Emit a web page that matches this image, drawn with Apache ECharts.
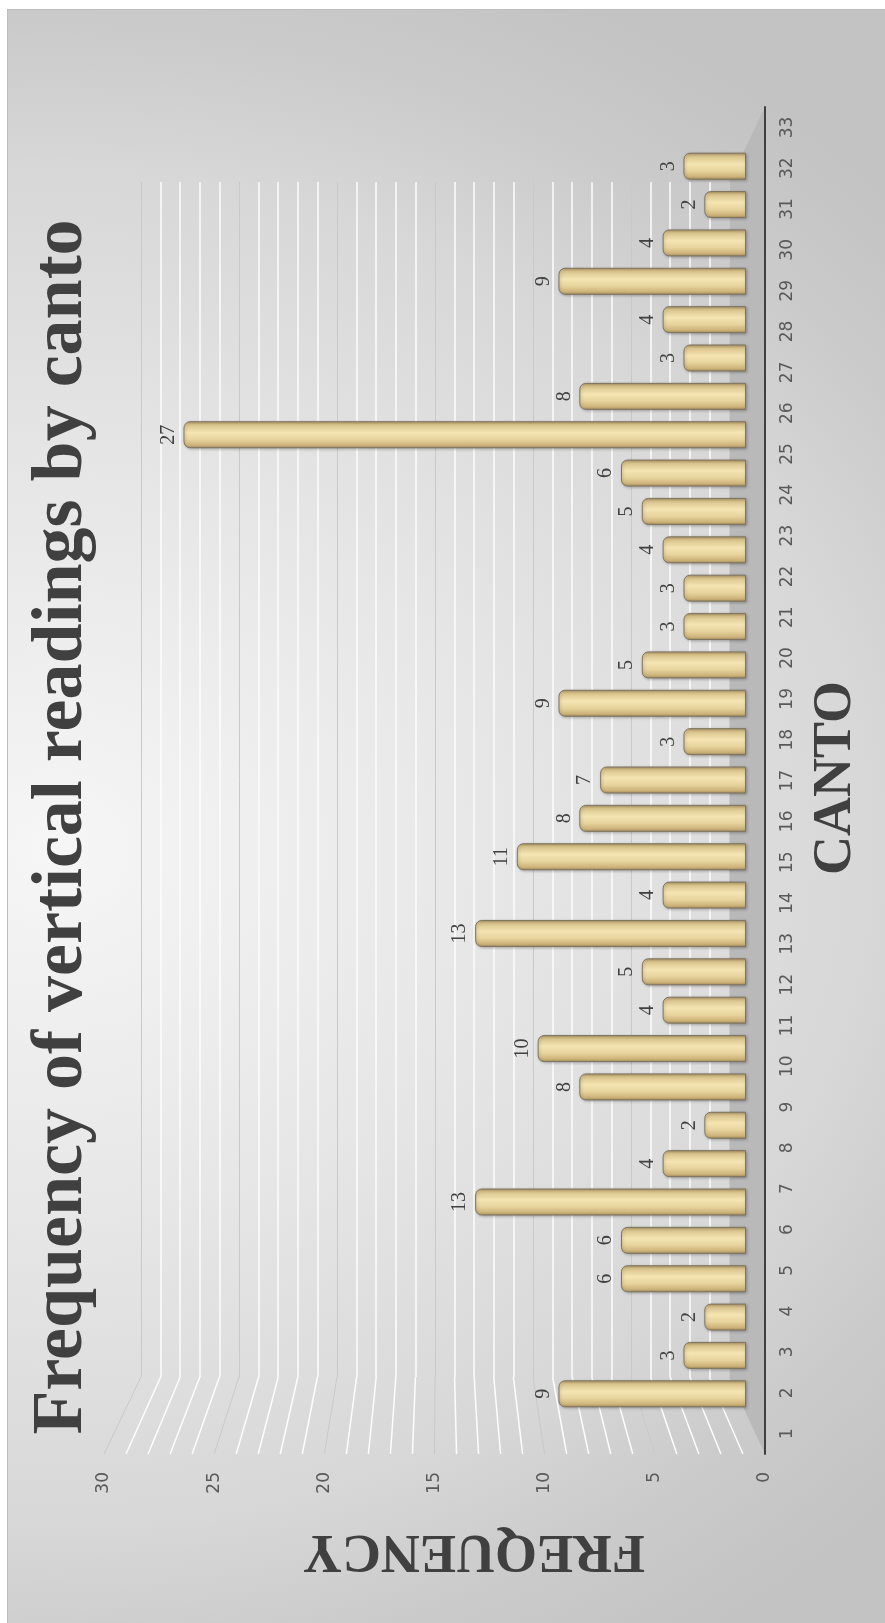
<!DOCTYPE html>
<html>
<head>
<meta charset="utf-8">
<title>Frequency of vertical readings by canto</title>
<script src="https://cdn.jsdelivr.net/npm/echarts@6.0.0/dist/echarts.min.js"></script>
<style>
  html, body { margin: 0; padding: 0; background: #ffffff; }
  #panel {
    position: absolute; left: 7px; top: 9px; width: 877px; height: 1613px;
    border-left: 1px solid #bdbdbd; border-top: 1px solid #bdbdbd;
    background: radial-gradient(ellipse 1150px 950px at 5% 52%, #f6f6f6 0%, #e6e6e6 40%, #d7d7d7 72%, #cbcbcb 86%, #c3c3c3 100%);
  }
  #chart { position: absolute; left: 0; top: 0; width: 885px; height: 1623px; }
</style>
</head>
<body>
<div id="panel"></div>
<div id="chart"></div>
<script>
// datos del grafico
const cantos = ['1', '2', '3', '4', '5', '6', '7', '8', '9', '10', '11', '12', '13', '14', '15', '16', '17',
  '18', '19', '20', '21', '22', '23', '24', '25', '26', '27', '28', '29', '30', '31', '32', '33'];
const readings = [9, 3, 2, 6, 6, 13, 4, 2, 8, 10, 4, 5, 13, 4, 11, 8, 7, 3, 9, 5, 3, 3, 4, 5, 6, 27, 8, 3, 4, 9, 4, 2, 3];
const freqMax = 30;
const freqStep = 5;

const titleText = 'Frequency of vertical readings by canto';
const cantoName = 'CANTO';
const freqName = 'FREQUENCY';

const serif = '"Liberation Serif", "Times New Roman", serif';
const sans = '"DejaVu Sans", sans-serif';

// the chart is an Excel 3D column chart turned on its side
const barsGrid = { left: 121, top: 147, width: 625, height: 1266 };
const frontGrid = { left: 104, top: 107, width: 661, height: 1347 };
const wallGrid = { left: 141, top: 182, width: 588, height: 1195 };

const chart = echarts.init(document.getElementById('chart'));

const option = {
  animation: false,
  grid: [
    Object.assign({ outerBoundsMode: 'none' }, barsGrid),
    Object.assign({ outerBoundsMode: 'none' }, frontGrid),
    Object.assign({ outerBoundsMode: 'none' }, wallGrid)
  ],
  xAxis: [
    { gridIndex: 0, type: 'value', min: 0, max: freqMax, inverse: true, show: false },
    {
      gridIndex: 1, type: 'value', min: 0, max: freqMax, interval: freqStep, inverse: true, position: 'bottom',
      axisLine: { show: false }, axisTick: { show: false }, splitLine: { show: false },
      axisLabel: { rotate: 90, margin: 18, color: '#595959', fontSize: 17, fontFamily: sans }
    },
    {
      gridIndex: 2, type: 'value', min: 0, max: freqMax, interval: freqStep, inverse: true,
      axisLine: { show: false }, axisTick: { show: false }, axisLabel: { show: false },
      splitLine: { show: true, lineStyle: { color: '#c9c9c9', width: 1 } },
      minorTick: { show: false, splitNumber: 5 },
      minorSplitLine: { show: true, lineStyle: { color: '#fdfdfd', width: 1.5 } }
    }
  ],
  yAxis: [
    { gridIndex: 0, type: 'category', data: cantos, show: false },
    {
      gridIndex: 1, type: 'category', data: cantos, position: 'right',
      axisLine: { show: true, lineStyle: { color: '#404040', width: 2 } },
      axisTick: { show: false },
      axisLabel: { interval: 0, rotate: 90, margin: 14, color: '#595959', fontSize: 17, fontFamily: sans }
    },
    { gridIndex: 2, type: 'value', min: 0, max: 1, show: false }
  ],
  series: [
    {
      name: 'Readings',
      type: 'bar',
      xAxisIndex: 0,
      yAxisIndex: 0,
      data: readings,
      barWidth: 27,
      itemStyle: {
        color: new echarts.graphic.LinearGradient(0, 0, 0, 1, [
          { offset: 0, color: '#ad9460' },
          { offset: 0.12, color: '#d8c28b' },
          { offset: 0.42, color: '#f4e5b2' },
          { offset: 0.68, color: '#e7d39c' },
          { offset: 0.9, color: '#cbb178' },
          { offset: 1, color: '#a08856' }
        ]),
        borderColor: '#7e7462',
        borderWidth: 1,
        borderRadius: [6, 0, 0, 6],
        shadowColor: 'rgba(0,0,0,0.25)',
        shadowBlur: 3,
        shadowOffsetX: 1,
        shadowOffsetY: 1
      },
      label: {
        show: true,
        position: 'left',
        distance: 5,
        rotate: 90,
        align: 'center',
        verticalAlign: 'bottom',
        fontFamily: serif,
        fontSize: 20,
        color: '#404040'
      }
    }
  ]
};

chart.setOption(option);

// paredes y suelo en perspectiva, a partir de los ejes
const backX = v => chart.convertToPixel({ xAxisIndex: 2 }, v);
const frontX = v => chart.convertToPixel({ xAxisIndex: 1 }, v);
const wallBottom = wallGrid.top + wallGrid.height;
const frontBottom = frontGrid.top + frontGrid.height;

const decor = [];
decor.push({
  type: 'polygon', z: -1, silent: true,
  shape: { points: [[backX(0), wallGrid.top], [frontX(0), frontGrid.top], [frontX(0), frontBottom], [backX(0), wallBottom]] },
  style: { fill: '#b9b9b9' }
});
for (let v = 1; v <= freqMax; v++) {
  decor.push({
    type: 'line', z: -1, silent: true,
    shape: { x1: backX(v), y1: wallBottom, x2: frontX(v), y2: frontBottom },
    style: { stroke: v % freqStep === 0 ? '#c9c9c9' : '#fdfdfd', lineWidth: v % freqStep === 0 ? 1 : 1.5 }
  });
}
decor.push({
  type: 'text', x: 62, y: 827, rotation: Math.PI / 2,
  style: { text: titleText, fontFamily: serif, fontWeight: 'bold', fontSize: 72, fill: '#404040', align: 'center', verticalAlign: 'middle' }
});
decor.push({
  type: 'text', x: 836, y: 778, rotation: Math.PI / 2,
  style: { text: cantoName, fontFamily: serif, fontWeight: 'bold', fontSize: 54, fill: '#404040', align: 'center', verticalAlign: 'middle' }
});
decor.push({
  type: 'text', x: 474, y: 1550, rotation: Math.PI,
  style: { text: freqName, fontFamily: serif, fontWeight: 'bold', fontSize: 54, fill: '#404040', align: 'center', verticalAlign: 'middle' }
});

chart.setOption({ graphic: decor });
</script>
</body>
</html>
